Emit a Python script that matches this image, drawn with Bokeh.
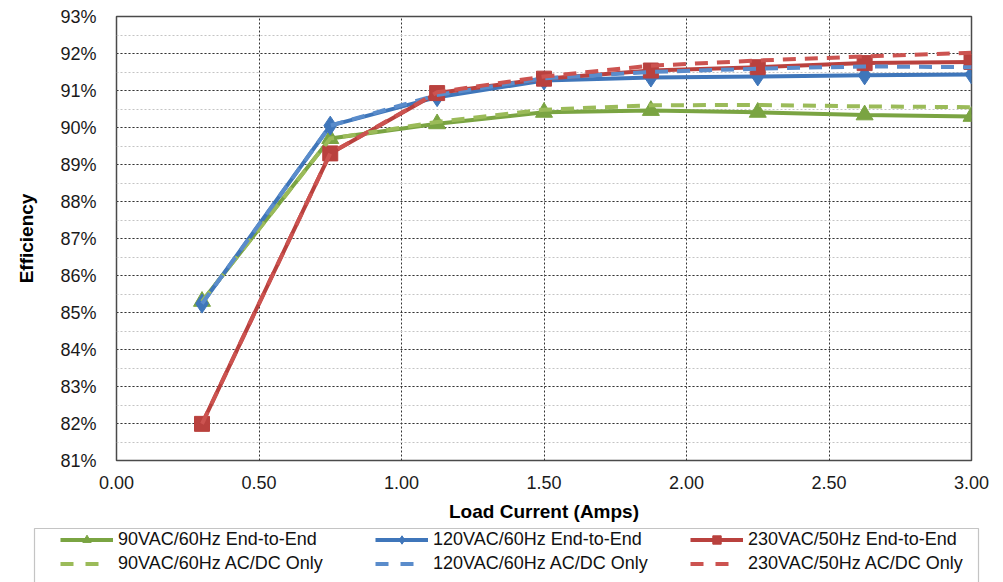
from bokeh.plotting import figure
from bokeh.layouts import column, row
from bokeh.models import (Range1d, SingleIntervalTicker, PrintfTickFormatter,
                          Legend, LegendItem, BoxAnnotation)
from bokeh.embed import file_html
from bokeh.resources import INLINE

# ---- data ----
load_current = [0.30, 0.75, 1.125, 1.50, 1.875, 2.25, 2.625, 3.00]
eff_90_e2e   = [85.30, 89.70, 90.10, 90.41, 90.46, 90.41, 90.34, 90.30]
eff_120_e2e  = [85.24, 90.05, 90.82, 91.27, 91.35, 91.38, 91.41, 91.43]
eff_230_e2e  = [81.99, 89.30, 90.93, 91.32, 91.54, 91.63, 91.74, 91.77]
eff_90_acdc  = [85.30, 89.70, 90.15, 90.48, 90.60, 90.61, 90.57, 90.55]
eff_120_acdc = [85.24, 90.05, 90.88, 91.33, 91.50, 91.59, 91.65, 91.63]
eff_230_acdc = [81.99, 89.30, 90.95, 91.38, 91.67, 91.81, 91.92, 92.02]

labels_e2e  = ["90VAC/60Hz End-to-End", "120VAC/60Hz End-to-End", "230VAC/50Hz End-to-End"]
labels_acdc = ["90VAC/60Hz AC/DC Only", "120VAC/60Hz AC/DC Only", "230VAC/50Hz AC/DC Only"]

FONT = "Liberation Sans"

p = figure(width=1003, height=527, output_backend="svg", toolbar_location=None,
           x_range=Range1d(0, 3.0), y_range=Range1d(81, 93),
           min_border_left=116, min_border_right=32, min_border_top=16,
           min_border_bottom=67)

p.background_fill_color = "white"
p.border_fill_color = "white"
p.outline_line_color = "#4a4a4a"
p.outline_line_width = 1.5

# axes
p.xaxis.ticker = SingleIntervalTicker(interval=0.5, num_minor_ticks=0)
p.yaxis.ticker = SingleIntervalTicker(interval=1, num_minor_ticks=2)
p.xaxis.formatter = PrintfTickFormatter(format="%.2f")
p.yaxis.formatter = PrintfTickFormatter(format="%d%%")
for ax in (p.xaxis, p.yaxis):
    ax.axis_line_color = None
    ax.major_tick_line_color = None
    ax.minor_tick_line_color = None
    ax.major_label_text_font = FONT
    ax.major_label_text_font_size = "18px"
    ax.major_label_text_color = "#1a1a1a"
    ax.axis_label_text_font = FONT
    ax.axis_label_text_font_size = "19px"
    ax.axis_label_text_font_style = "bold"
    ax.axis_label_text_color = "#000000"
p.xaxis.major_label_standoff = 9
p.yaxis.major_label_standoff = 14
p.xaxis.axis_label = "Load Current (Amps)"
p.yaxis.axis_label = "Efficiency"
p.xaxis.axis_label_standoff = 9
p.yaxis.axis_label_standoff = 20

# grids
p.xgrid.grid_line_color = "#333333"
p.xgrid.grid_line_dash = "2 2"
p.xgrid.grid_line_width = 1
p.ygrid.grid_line_color = "#333333"
p.ygrid.grid_line_dash = "2 2"
p.ygrid.grid_line_width = 1
p.ygrid.minor_grid_line_color = "#c4c4c4"
p.ygrid.minor_grid_line_dash = "2 2"
p.ygrid.minor_grid_line_width = 1

solid_colors = ["#7aa442", "#3f76ba", "#b9413e"]
dash_colors = ["#9bbb59", "#5a8ccb", "#cc5350"]
markers = ["triangle", "diamond", "square"]
msizes = [17, 19, 15]

e2e = [eff_90_e2e, eff_120_e2e, eff_230_e2e]
acdc = [eff_90_acdc, eff_120_acdc, eff_230_acdc]

for vals, c, m, s in zip(e2e, solid_colors, markers, msizes):
    p.line(load_current, vals, line_color=c, line_width=4)
    p.scatter(load_current, vals, marker=m, size=s, fill_color=c, line_color=c)

for vals, c in zip(acdc, dash_colors):
    p.line(load_current, vals, line_color=c, line_width=4, line_dash="13 9")

# ---- legend strip (second figure; its proxies lie outside its view) ----
lg = figure(width=1003, height=55, output_backend="svg", toolbar_location=None,
            x_range=Range1d(0, 1), y_range=Range1d(0, 1),
            x_axis_type=None, y_axis_type=None,
            min_border_left=0, min_border_right=0, min_border_top=0,
            min_border_bottom=0)
lg.outline_line_color = None
lg.grid.visible = False
lg.background_fill_color = "white"
lg.border_fill_color = "white"

items_e2e = []
for vals, c, m, lab in zip(e2e, solid_colors, markers, labels_e2e):
    lr = lg.line(load_current, vals, line_color=c, line_width=4)
    sr = lg.scatter(load_current, vals, marker=m, size=12, fill_color=c, line_color=c)
    items_e2e.append(LegendItem(label=lab, renderers=[lr, sr]))

items_acdc = []
for vals, c, lab in zip(acdc, dash_colors, labels_acdc):
    lr = lg.line(load_current, vals, line_color=c, line_width=4, line_dash="13 12 13 40")
    items_acdc.append(LegendItem(label=lab, renderers=[lr]))

box = BoxAnnotation(left=34, right=978, top=1, bottom=90,
                    left_units="canvas", right_units="canvas",
                    top_units="canvas", bottom_units="canvas",
                    fill_alpha=0, line_color="#3a3a3a", line_width=1.2)
lg.add_layout(box)

legend = Legend(items=items_e2e + items_acdc, orientation="horizontal", ncols=3,
                location=(60, 8.5), padding=0, margin=0, spacing=3,
                glyph_width=53, glyph_height=21, label_height=21,
                label_width=254, label_standoff=5,
                label_text_font=FONT, label_text_font_size="18px",
                label_text_color="#111111",
                border_line_alpha=0, background_fill_alpha=0)
lg.add_layout(legend)

layout = column(p, row(lg), spacing=0)
open("out.html", "w").write(file_html(layout, INLINE))
